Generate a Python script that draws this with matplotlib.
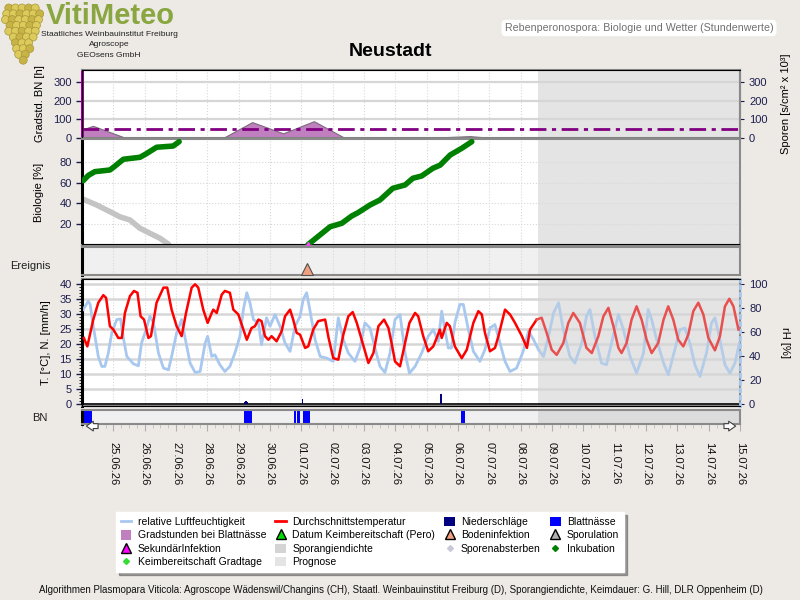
import numpy as np
import pandas as pd
import matplotlib
matplotlib.use('Agg')
import matplotlib.pyplot as plt
from matplotlib.patches import Rectangle, Circle, Patch
from matplotlib.lines import Line2D

plt.rcParams['font.family'] = ['Liberation Sans', 'DejaVu Sans']

# x axis = days since 24.06.26 00:00
days = pd.date_range('2026-06-25', '2026-07-15', freq='D')
day_labels = [d.strftime('%d.%m.%y') for d in days]
day_ticks = list(range(1, 22))
prognose_start = 14.55

# Gradstunden bei Blattnaesse [h]
grad_t = [0.0, 0.35, 1.40, 4.50, 5.43, 6.42, 7.40, 8.39, 10.88, 12.38, 13.12, 21.0]
grad_h = [45, 65, 0, 0, 85, 25, 90, 0, 0, 10, 0, 0]
sporen_level = 50

# Biologie [%]
inkub1_t = [0.04, 0.20, 0.41, 0.89, 1.05, 1.32, 1.85, 2.05, 2.38, 2.91, 3.10]
inkub1_v = [62, 67, 70.7, 72.3, 76, 82.7, 84.6, 88, 94.3, 95.5, 99.7]
inkub2_t = [7.21, 7.92, 8.29, 8.61, 8.81, 9.19, 9.51, 9.92, 10.31, 10.56, 10.84,
            11.20, 11.43, 11.75, 12.12, 12.44]
inkub2_v = [0, 17.4, 20.7, 27.8, 31, 38.4, 43.3, 54.6, 57.8, 64.3, 66.5,
            74, 77, 86.8, 93.3, 99.7]
spor_t = [0.04, 0.47, 0.89, 1.21, 1.53, 1.85, 2.17, 2.49, 2.76]
spor_v = [44, 38.4, 32, 27, 23.9, 15.9, 11, 6.2, 0.5]
boden_t = 7.18
sekundaer_t = 7.22

# Durchschnittstemperatur [C]
temp_t = [0.06, 0.17, 0.36, 0.52, 0.68, 0.77, 0.89, 1.00, 1.16, 1.27, 1.37, 1.53, 1.66,
          1.77, 1.87, 1.98, 2.12, 2.20, 2.38, 2.60, 2.72, 2.86, 3.02, 3.18, 3.32, 3.50,
          3.61, 3.71, 3.87, 4.01, 4.14, 4.19, 4.30, 4.46, 4.56, 4.72, 4.83, 4.99, 5.15,
          5.26, 5.41, 5.52, 5.63, 5.73, 5.84, 5.95, 6.05, 6.21, 6.37, 6.48, 6.64, 6.74,
          6.85, 6.96, 7.12, 7.22, 7.38, 7.54, 7.76, 7.87, 8.02, 8.18, 8.34, 8.50, 8.64,
          8.77, 8.91, 9.14, 9.30, 9.46, 9.64, 9.78, 9.89, 9.99, 10.15, 10.31, 10.45,
          10.63, 10.73, 10.89, 11.05, 11.21, 11.32, 11.42, 11.48, 11.64, 11.74, 11.90,
          12.12, 12.28, 12.49, 12.65, 12.76, 12.86, 13.02, 13.18, 13.29, 13.50, 13.66,
          13.82, 14.04, 14.20, 14.30, 14.51]
temp_v = [22, 19.2, 28.1, 33.7, 36.2, 35.3, 25.9, 24.8, 22, 22, 30.3, 35.9, 37.6,
          37, 29.2, 28.1, 22, 22.6, 33.7, 38.7, 38.7, 31.4, 25.9, 22.6, 30.3, 38.7,
          39.8, 38.7, 31.4, 27, 30.3, 31.4, 30.3, 36.4, 37.6, 37, 31.4, 29.8, 24.8,
          21.4, 25.3, 25.9, 28.1, 27.6, 22.6, 21.4, 22.6, 20.9, 24.2, 29.2, 31.4, 28.1,
          23.7, 23.1, 18.7, 19.2, 24.8, 27.6, 28.1, 22, 15.3, 14.8, 23.1, 29.2, 30.6,
          27, 22, 13.7, 17, 25.9, 28.1, 25.3, 19.8, 14.2, 12.6, 20.3, 27,
          30.3, 29.2, 22.6, 17.6, 19.2, 22, 24.8, 22, 27, 25.9, 19.2,
          15.3, 18.1, 27, 30.9, 29.8, 23.7, 17.6, 18.7, 22.6, 31.4, 29.8,
          27, 22.6, 18.7, 24.8, 28.1]
temp_fc_t = [14.67, 14.83, 14.99, 15.15, 15.36, 15.52, 15.68, 15.89, 16.10, 16.27,
             16.48, 16.64, 16.80, 16.96, 17.12, 17.22, 17.38, 17.54, 17.70, 17.86,
             18.02, 18.18, 18.39, 18.56, 18.71, 18.87, 19.03, 19.19, 19.35, 19.51,
             19.67, 19.83, 19.99, 20.20, 20.36, 20.52, 20.66, 20.79, 20.95]
temp_fc_v = [28.7, 23.7, 18.1, 16.4, 20.3, 27, 30.3, 27, 18.7, 17, 22.6, 29.2, 32,
             25.9, 18.7, 17, 20.3, 28.1, 32.5, 28.1, 21.4, 17, 20.3, 28.1, 32.5, 28.1,
             21.4, 19.2, 23.1, 30.9, 33.7, 29.8, 22, 17.9, 22.6, 32.5, 35, 32.5, 24.8]

# relative Luftfeuchtigkeit [%]
rh_t = [0.04, 0.20, 0.26, 0.36, 0.52, 0.63, 0.73, 0.84, 0.95, 1.11, 1.23, 1.32, 1.43,
        1.64, 1.80, 1.90, 2.01, 2.17, 2.28, 2.44, 2.60, 2.76, 2.86, 3.02, 3.18, 3.29,
        3.45, 3.61, 3.77, 3.93, 4.01, 4.14, 4.24, 4.40, 4.56, 4.72, 4.88, 5.04, 5.15,
        5.26, 5.36, 5.47, 5.63, 5.73, 5.89, 6.00, 6.16, 6.32, 6.48, 6.64, 6.80, 6.96,
        7.06, 7.17, 7.27, 7.44, 7.60, 7.81, 8.02, 8.18, 8.34, 8.50, 8.71, 8.87, 9.03,
        9.19, 9.35, 9.51, 9.67, 9.83, 9.99, 10.15, 10.31, 10.45, 10.63, 10.84, 11.05,
        11.21, 11.37, 11.48, 11.58, 11.69, 11.79, 11.90, 12.06, 12.17, 12.33, 12.49,
        12.70, 12.86, 13.02, 13.18, 13.34, 13.50, 13.66, 13.87, 14.08, 14.25, 14.41,
        14.57]
rh_v = [78.6, 85.6, 82.8, 64.7, 39.7, 31.4, 31.4, 42.5, 59.2, 70.3, 70.8, 55, 39.7,
        33.6, 31.9, 50.8, 59.2, 73, 67.5, 42.5, 30, 28.6, 39.7, 59.2, 70.3, 55,
        34.2, 26.4, 27.2, 50.8, 56.4, 39.7, 41.1, 32.8, 27.2, 31.4, 42.5, 56.4, 78.6,
        92.5, 84.2, 70.3, 67.5, 49.4, 71.7, 64.7, 74.5, 64.7, 50.8, 43.9, 64.7, 73,
        87, 92.5, 78.6, 53.6, 39.7, 38.3, 35.6, 71.7, 53.6, 42.5, 35.6, 46.7, 67.5,
        63.3, 46.7, 31.4, 26.4, 42.5, 70.3, 74.5, 42.5, 25.8, 31.4, 42.5, 56.4,
        61.9, 52.2, 77.2, 61.9, 46.7, 46.7, 67.5, 82.8, 82.8, 61.9, 43.9,
        35.6, 45.3, 63.3, 66.1, 50.8, 35.6, 27.2, 30, 43.9, 60.6, 53.6,
        45.3]
rh_fc_t = [14.73, 14.89, 15.05, 15.21, 15.36, 15.57, 15.73, 15.95, 16.10, 16.21, 16.37,
           16.58, 16.74, 16.90, 17.12, 17.28, 17.49, 17.70, 17.92, 18.07, 18.18, 18.34,
           18.56, 18.71, 18.92, 19.08, 19.24, 19.40, 19.56, 19.72, 19.93, 20.09, 20.20,
           20.36, 20.52, 20.68, 20.84, 20.98]
rh_fc_v = [39.7, 56.4, 75.8, 84.2, 61.9, 39.7, 34.2, 50.8, 73, 78.6, 56.4, 34.2, 32.8,
           50.8, 74.5, 61.9, 39.7, 25.8, 42.5, 78.6, 70.3, 53.6, 34.2, 24.4, 45.3, 61.9,
           63.3, 50.8, 32.8, 23.1, 42.5, 67.5, 71.7, 53.6, 32.8, 25.8, 34.2, 50.8]

# Niederschlaege [mm/h]
rain_t = [5.19, 5.23, 5.27, 7.04, 11.46]
rain_mm = [0.9, 1.0, 0.8, 1.9, 3.4]

# Blattnaesse Perioden
bn_start = [0.0, 5.18, 6.78, 6.86, 7.04, 12.09]
bn_end = [0.32, 5.44, 6.83, 6.96, 7.28, 12.22]

BG = '#EDEAE6'
TICKC = '#1c1c4c'
GRID = '#D6D6D6'
FC_BG = '#E4E4E4'

fig = plt.figure(figsize=(8, 6), dpi=100, facecolor=BG)


def px(l, t, r, b):
    return [l / 800, 1 - b / 600, (r - l) / 800, (b - t) / 600]


def style(ax, left_color='black'):
    ax.set_xlim(0, 21)
    for s in ['top', 'right', 'bottom']:
        ax.spines[s].set_color('#8a8a8a')
        ax.spines[s].set_linewidth(1.5)
    ax.spines['left'].set_color(left_color)
    ax.spines['left'].set_linewidth(2.2)
    ax.tick_params(axis='both', labelsize=8, colors=TICKC, length=4, width=1)
    ax.tick_params(axis='x', bottom=False, labelbottom=False)
    for d in day_ticks:
        ax.axvline(d, color='#d8d8d8', lw=0.8, ls=':', zorder=0)
    ax.axvspan(prognose_start, 21, color=FC_BG, zorder=0, lw=0)


# --- Gradstunden / Sporen
ax1 = fig.add_axes(px(82, 70, 740, 138))
style(ax1, '#a000a0')
ax1.set_ylim(0, 364)
ax1.set_yticks([0, 100, 200, 300])
for v in [100, 200, 300]:
    ax1.axhline(v, color=GRID, lw=1.6, zorder=0.5)
ax1.fill_between(grad_t, grad_h, 0, color='#C080C0', edgecolor='#7a6a7a', lw=0.8, zorder=2)
ax1.axhline(sporen_level, color='#800080', lw=2, ls=(0, (6, 2, 1.5, 2)), zorder=3)
ax1.set_ylabel('Gradstd. BN [h]', fontsize=8, labelpad=6)
ax1r = ax1.twinx()
ax1r.set_ylim(0, 364)
ax1r.set_yticks([0, 100, 200, 300])
ax1r.tick_params(labelsize=8, colors=TICKC, length=3)
ax1r.spines['right'].set_color('#8a8a8a')
ax1r.spines['right'].set_linewidth(1.5)
ax1r.set_ylabel('Sporen [s/cm² x 10³]', fontsize=8, labelpad=10)

# --- Biologie
ax2 = fig.add_axes(px(82, 139, 740, 245))
style(ax2)
ax2.set_ylim(-0.3, 102.3)
ax2.set_yticks([20, 40, 60, 80])
ax2.grid(axis='y', color='#d8d8d8', lw=0.8, ls=':')
ax2.axhline(0, color='black', lw=1.5, zorder=3)
ax2.plot(spor_t, spor_v, color='#C4C4C4', lw=4, solid_capstyle='round', zorder=2)
ax2.plot(inkub1_t, inkub1_v, color='#008000', lw=4, solid_capstyle='round', zorder=3)
ax2.plot(inkub2_t, inkub2_v, color='#008000', lw=4, solid_capstyle='round', zorder=3)
ax2.plot([sekundaer_t], [0.5], marker='^', color='#ff40ff', ms=3, zorder=4)
ax2.set_ylabel('Biologie [%]', fontsize=8, labelpad=11)

# --- Ereignis
ax3 = fig.add_axes(px(82, 247, 740, 275))
style(ax3)
ax3.set_facecolor('#F0F0F0')
ax3.set_ylim(0, 1)
ax3.set_yticks([])
ax3.plot([boden_t], [0.22], marker='^', ms=8, mfc='#F0A080', mec='#505050', mew=0.8,
         clip_on=False, zorder=4)
fig.text(10 / 800, 1 - 266 / 600, 'Ereignis', fontsize=8, va='center', color='#202020')

# --- Temperatur / rH
ax4 = fig.add_axes(px(82, 279, 740, 406))
style(ax4)
ax4.set_ylim(-0.56, 41.56)
ax4.set_yticks(range(0, 41, 5))
ax4.set_yticks(range(0, 41, 1), minor=True)
ax4.tick_params(which='minor', length=2, colors='black')
for v in range(5, 41, 5):
    ax4.axhline(v, color=GRID, lw=1.8, zorder=0.5)
ax4.axhline(0, color='black', lw=1.2, zorder=3)
ax4r = ax4.twinx()
ax4r.set_ylim(-1.4, 103.9)
ax4r.set_yticks(range(0, 101, 20))
ax4r.tick_params(labelsize=8, colors=TICKC, length=3)
ax4r.spines['right'].set_color('#a8c8f0')
ax4r.spines['right'].set_linestyle(':')
ax4r.spines['right'].set_linewidth(2)
ax4r.plot(rh_t, rh_v, color='#A8C8F0', lw=2, zorder=2)
ax4r.plot([rh_t[-1]] + rh_fc_t, [rh_v[-1]] + rh_fc_v, color='#B4CCE8', lw=2, zorder=2)
ax4r.plot(temp_t, [v * 2.5 for v in temp_v], color='#FF0000', lw=1.8, zorder=3)
ax4r.plot([temp_t[-1]] + temp_fc_t, [temp_v[-1] * 2.5] + [v * 2.5 for v in temp_fc_v],
          color='#E85050', lw=1.8, zorder=3)
ax4.bar(rain_t, rain_mm, width=0.045, color='#000080', align='center', zorder=4)
ax4.set_ylabel('T. [°C], N. [mm/h]', fontsize=8, labelpad=6)
ax4r.set_ylabel('rH [%]', fontsize=8, rotation=270, labelpad=16)

# --- Blattnaesse Streifen
ax5 = fig.add_axes(px(82, 410, 740, 424))
ax5.set_xlim(0, 21)
ax5.set_ylim(0, 1)
ax5.set_facecolor('#F0F0F0')
ax5.axvspan(prognose_start, 21, color='#DCDCDC', lw=0, zorder=0)
for s0, s1 in zip(bn_start, bn_end):
    ax5.add_patch(Rectangle((s0, 0), s1 - s0, 1, color='#0000FF', lw=0, zorder=2))
for s in ['top', 'right', 'bottom']:
    ax5.spines[s].set_color('#8a8a8a')
    ax5.spines[s].set_linewidth(1.5)
ax5.spines['left'].set_linewidth(2.2)
ax5.set_yticks([])
ax5.set_xticks(day_ticks)
ax5.set_xticklabels(day_labels, rotation=270, fontsize=8, color='#101010')
ax5.set_xticks(np.arange(0, 21.01, 0.25), minor=True)
ax5.tick_params(axis='x', which='major', length=5, color='#b0b0b0', pad=8)
ax5.tick_params(axis='x', which='minor', length=3, color='#c0c0c0')
ax5.annotate('', xy=(0.05, -0.15), xytext=(0.6, -0.15), xycoords=('data', 'axes fraction'),
             arrowprops=dict(arrowstyle='simple,head_width=0.7,tail_width=0.35',
                             fc='white', ec='#404040', lw=0.8), annotation_clip=False)
ax5.annotate('', xy=(20.95, -0.15), xytext=(20.4, -0.15), xycoords=('data', 'axes fraction'),
             arrowprops=dict(arrowstyle='simple,head_width=0.7,tail_width=0.35',
                             fc='white', ec='#404040', lw=0.8), annotation_clip=False)
fig.text(40 / 800, 1 - 418 / 600, 'BN', fontsize=8, ha='center', va='center', color='#202020')

# --- Kopf
fig.text(391 / 800, 1 - 52 / 600, 'Neustadt', fontsize=14, fontweight='bold',
         ha='center', va='center', color='black')
fig.text(639 / 800, 1 - 28 / 600, 'Rebenperonospora: Biologie und Wetter (Stundenwerte)',
         fontsize=7.7, ha='center', va='center', color='#707070',
         bbox=dict(boxstyle='round,pad=0.3,rounding_size=0.4', fc='white', ec='none'))
fig.text(46 / 800, 1 - 23.5 / 600, 'VitiMeteo', fontsize=21, fontweight='bold',
         color='#8AA640', va='baseline', ha='left')
for i, line in enumerate(['Staatliches Weinbauinstitut Freiburg', 'Agroscope', 'GEOsens GmbH']):
    fig.text(109 / 800, 1 - (34.5 + 10.5 * i) / 600, line, fontsize=6.1, ha='center',
             va='center', color='#202020')

# Trauben-Logo
axg = fig.add_axes(px(0, 0, 44, 66))
axg.set_xlim(0, 44)
axg.set_ylim(66, 0)
axg.axis('off')
row_counts = [5, 6, 6, 5, 5, 4, 3, 3, 2, 1]
for row, n in enumerate(row_counts):
    for k in range(n):
        cx = 22 - (n - 1) * 3.3 + k * 6.6 + (row % 2) * 1.2
        cy = 8 + row * 5.8
        shade = '#DCCB5A' if (row + k) % 3 else '#C8B445'
        axg.add_patch(Circle((cx, cy), 4.0, fc=shade, ec='#A8953A', lw=0.5))

# --- Legende
handles = [
    Line2D([], [], color='#A8C8F0', lw=2),
    Patch(fc='#C080C0', ec='none'),
    Line2D([], [], marker='^', ls='none', mfc='#ff00ff', mec='black', ms=7),
    Line2D([], [], marker='D', ls='none', color='#33dd33', ms=3),
    Line2D([], [], color='#FF0000', lw=2),
    Line2D([], [], marker='^', ls='none', mfc='#00dd00', mec='black', ms=7),
    Patch(fc='#D4D4D4', ec='none'),
    Patch(fc='#E4E4E4', ec='none'),
    Patch(fc='#000080', ec='none'),
    Line2D([], [], marker='^', ls='none', mfc='#F0A080', mec='black', ms=7),
    Line2D([], [], marker='D', ls='none', color='#c8c8d8', ms=3),
    Patch(fc='#0000FF', ec='none'),
    Line2D([], [], marker='^', ls='none', mfc='#b0b0b0', mec='black', ms=7),
    Line2D([], [], marker='D', ls='none', color='#008000', ms=3),
]
labels = ['relative Luftfeuchtigkeit', 'Gradstunden bei Blattnässe', 'SekundärInfektion',
          'Keimbereitschaft Gradtage', 'Durchschnittstemperatur',
          'Datum Keimbereitschaft (Pero)', 'Sporangiendichte', 'Prognose', 'Niederschläge',
          'Bodeninfektion', 'Sporenabsterben', 'Blattnässe', 'Sporulation', 'Inkubation']
leg = fig.legend(handles, labels, ncol=4, loc='center', bbox_to_anchor=(370 / 800, 1 - 542 / 600),
                 fontsize=7.5, frameon=True, fancybox=False, shadow=True, framealpha=1,
                 edgecolor='white', handlelength=1.0, handleheight=1.0, handletextpad=0.6,
                 columnspacing=0.9, labelspacing=0.3, borderpad=0.45)

fig.text(401 / 800, 1 - 590 / 600,
         'Algorithmen Plasmopara Viticola: Agroscope Wädenswil/Changins (CH), Staatl. '
         'Weinbauinstitut Freiburg (D), Sporangiendichte, Keimdauer: G. Hill, DLR Oppenheim (D)',
         fontsize=7, ha='center', va='center', color='#101010')

fig.savefig('out.png', dpi=100, facecolor=BG)
